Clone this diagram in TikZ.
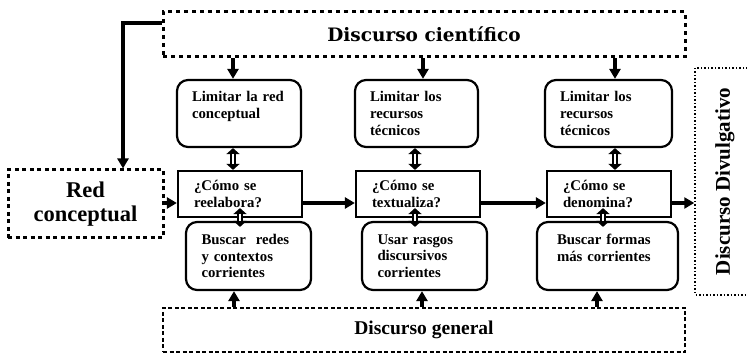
\documentclass[tikz,border=0pt]{standalone}
\usepackage{fontspec}
\setmainfont{Liberation Serif}
\newfontfamily\scifont{DejaVu Serif}
\usetikzlibrary{arrows.meta}

\tikzset{
  arr/.style={line width=3.4pt,-{Triangle[length=10pt,width=11pt]}},
  dbl/.style={line width=6pt,{Triangle[length=6pt,width=13pt]}-{Triangle[length=6pt,width=13pt]},
    postaction={draw=white,line width=2.2pt,-,shorten <=5.5pt,shorten >=5.5pt}},
  rbox/.style={draw,line width=2.2pt,rounded corners=11pt,align=left,inner xsep=15pt,inner ysep=0pt,
    font=\fontsize{14.8pt}{16.7pt}\selectfont\bfseries},
  qbox/.style={draw,line width=2.2pt,align=left,inner xsep=16pt,inner ysep=0pt,
    font=\fontsize{14.8pt}{16.7pt}\selectfont\bfseries},
}

\begin{document}
\begin{tikzpicture}[x=1pt,y=1pt]
  \useasboundingbox (0,0) rectangle (747,353);

  %%%%%%%%%%%%%%%%%%%%%%%%%%%%%%%%%%%%%%%%%%%%%%%%%%%%%%%%%%%%%%%%%%%%%%%%%%%
  %%%%  Discursos
  \node[draw,line width=3pt,dash pattern=on 4pt off 4pt,minimum width=522pt,minimum height=45pt,
    font=\scifont\bfseries\fontsize{18.5}{20}\selectfont] (sci) at (424,318.5) {Discurso científico};
  \node[draw,line width=3pt,dash pattern=on 4pt off 3.5pt,minimum width=155pt,minimum height=68pt,
    align=center,font=\bfseries\fontsize{22.5}{24}\selectfont] (red) at (85.5,149) {Red\\conceptual};
  \node[draw,line width=1.8pt,dash pattern=on 4pt off 2.5pt,minimum width=522pt,minimum height=44pt,
    font=\bfseries\fontsize{19.5}{22}\selectfont] (gen) at (424,23) {Discurso general};
  \node[draw,line width=1.5pt,dash pattern=on 1.5pt off 2pt,rotate=90,minimum width=227pt,minimum height=60pt,
    font=\bfseries\fontsize{21}{24}\selectfont] (div) at (725,171.5) {Discurso Divulgativo};

  %%%%%%%%%%%%%%%%%%%%%%%%%%%%%%%%%%%%%%%%%%%%%%%%%%%%%%%%%%%%%%%%%%%%%%%%%%%
  %%%%  Limitar
  \node[rbox,minimum height=67pt,text width=94pt] (lim1) at (239,239.5) {Limitar la red\\conceptual\\~};
  \node[rbox,minimum height=67pt,text width=93pt] (lim2) at (416.5,239.5) {Limitar los\\recursos\\técnicos};
  \node[rbox,minimum height=67pt,text width=97pt] (lim3) at (608.5,239.5) {Limitar los\\recursos\\técnicos};

  %%%%  Como
  \node[qbox,minimum height=46pt,text width=92pt] (como1) at (240,159) {¿Cómo se\\reelabora?};
  \node[qbox,minimum height=46pt,text width=92pt] (como2) at (418,159) {¿Cómo se\\textualiza?};
  \node[qbox,minimum height=46pt,text width=92pt] (como3) at (609,159) {¿Cómo se\\denomina?};

  %%%%  Buscar
  \node[rbox,minimum height=68pt,text width=94pt,inner xsep=15.5pt] (busc1) at (248.5,97) {Buscar\ \ redes\\y contextos\\corrientes};
  \node[rbox,minimum height=68pt,text width=94pt,inner xsep=15.5pt] (busc2) at (424.5,97) {Usar rasgos\\discursivos\\corrientes};
  \node[rbox,minimum height=68pt,text width=101pt,inner xsep=20pt] (busc3) at (607.5,97) {Buscar formas\\más corrientes\\~};

  %%%%%%%%%%%%%%%%%%%%%%%%%%%%%%%%%%%%%%%%%%%%%%%%%%%%%%%%%%%%%%%%%%%%%%%%%%%
  %%%%  Flechas
  \draw[arr] ([yshift=11.5]sci.west) -| ([xshift=37.5]red.north);

  \foreach \n/\dx in {1/-6,2/6.5,3/6.5}
    \draw[arr] ([xshift=\dx]lim\n.north |- sci.south) -- ([xshift=\dx]lim\n.north);
  \foreach \n/\dx in {1/-14.5,2/-2.5,3/-10.5}
    \draw[arr] ([xshift=\dx]busc\n.south |- gen.north) -- ([xshift=\dx]busc\n.south);

  \foreach \n/\dx in {1/-7,2/-3,3/6}
    \draw[dbl] ([xshift=\dx]como\n.north |- lim\n.south) -- ([xshift=\dx]como\n.north);
  \foreach \n/\dx in {1/0,2/-3,3/-6}
    \draw[dbl] ([xshift=\dx,yshift=10]como\n.south) -- ([xshift=\dx,yshift=-6]como\n.south |- busc\n.north);

  \draw[arr] ([yshift=-9]como1.west -| red.east) -- ([yshift=-9]como1.west);
  \draw[arr] ([yshift=-9]como1.east) -- ([yshift=-9]como2.west);
  \draw[arr] ([yshift=-9]como2.east) -- ([yshift=-9]como3.west);
  \draw[arr] ([yshift=-9]como3.east) -- ([yshift=-9]como3.east -| div.north);
\end{tikzpicture}
\end{document}
